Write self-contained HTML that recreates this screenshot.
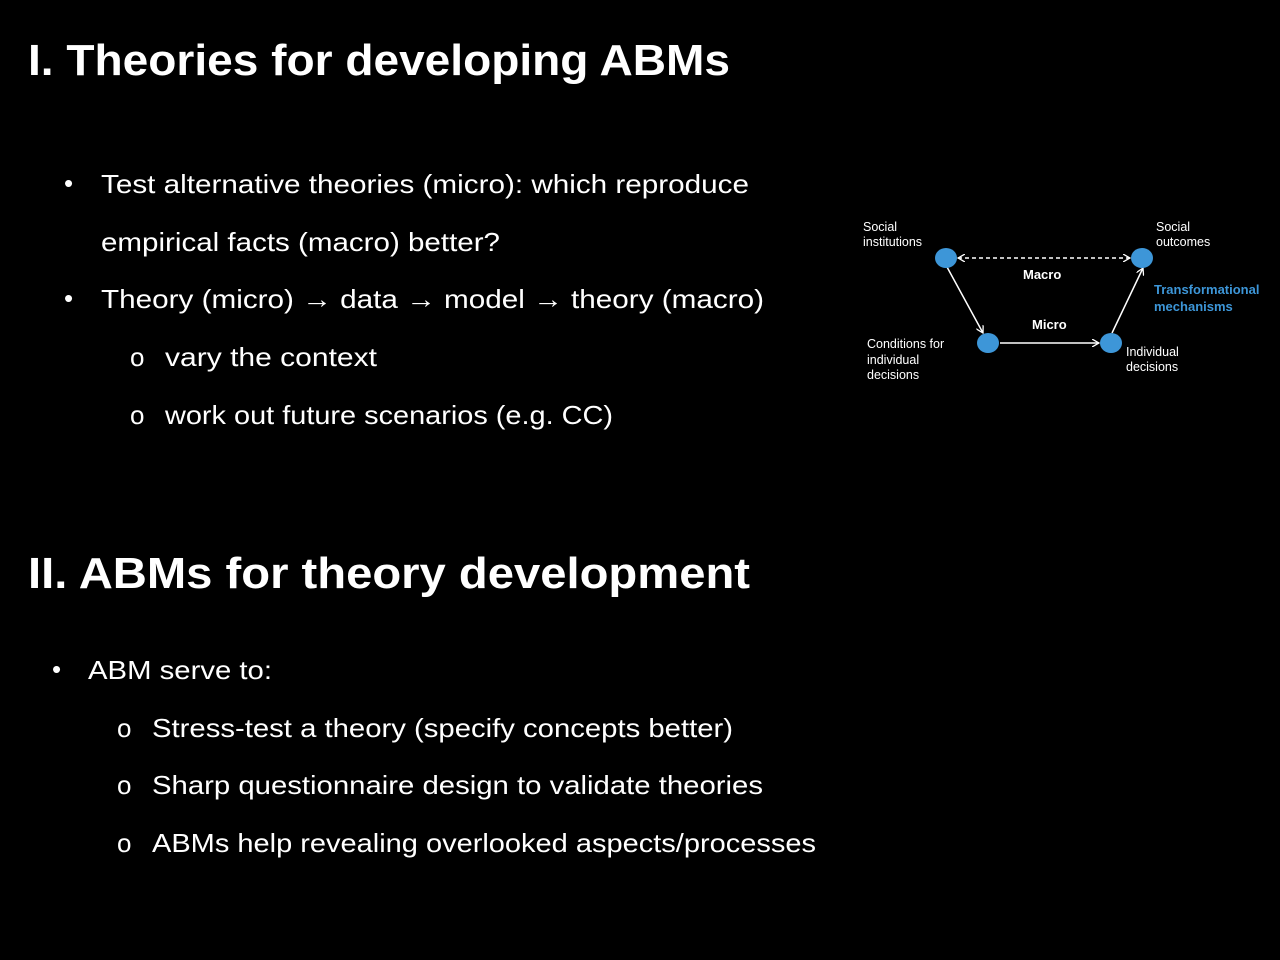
<!DOCTYPE html>
<html><head><style>html,body{margin:0;background:#000;}svg{display:block}</style></head>
<body>
<svg width="1280" height="960" viewBox="0 0 1280 960" xmlns="http://www.w3.org/2000/svg">
<rect width="1280" height="960" fill="#000"/>
<g fill="#fff" font-family="Liberation Sans, sans-serif">
<text x="28" y="75" font-size="44" font-weight="bold" textLength="702" lengthAdjust="spacingAndGlyphs">I. Theories for developing ABMs</text>
<text x="28" y="588" font-size="44" font-weight="bold" textLength="722" lengthAdjust="spacingAndGlyphs">II. ABMs for theory development</text>
<g font-size="26">
<text x="64" y="192">•</text>
<text x="101" y="193" textLength="648" lengthAdjust="spacingAndGlyphs">Test alternative theories (micro): which reproduce</text>
<text x="101" y="251" textLength="399" lengthAdjust="spacingAndGlyphs">empirical facts (macro) better?</text>
<text x="64" y="307">•</text>
<text x="101" y="308" textLength="663" lengthAdjust="spacingAndGlyphs">Theory (micro) → data → model → theory (macro)</text>
<text x="130" y="366">o</text>
<text x="165" y="366" textLength="212" lengthAdjust="spacingAndGlyphs">vary the context</text>
<text x="130" y="424">o</text>
<text x="165" y="424" textLength="448" lengthAdjust="spacingAndGlyphs">work out future scenarios (e.g. CC)</text>
<text x="52" y="678">•</text>
<text x="88" y="679" textLength="184" lengthAdjust="spacingAndGlyphs">ABM serve to:</text>
<text x="117" y="737">o</text>
<text x="152" y="737" textLength="581" lengthAdjust="spacingAndGlyphs">Stress-test a theory (specify concepts better)</text>
<text x="117" y="794">o</text>
<text x="152" y="794" textLength="611" lengthAdjust="spacingAndGlyphs">Sharp questionnaire design to validate theories</text>
<text x="117" y="852">o</text>
<text x="152" y="852" textLength="664" lengthAdjust="spacingAndGlyphs">ABMs help revealing overlooked aspects/processes</text>
</g>
<g font-size="12.5">
<text x="863" y="231">Social</text>
<text x="863" y="246">institutions</text>
<text x="1156" y="231">Social</text>
<text x="1156" y="246">outcomes</text>
<text x="867" y="348">Conditions for</text>
<text x="867" y="364">individual</text>
<text x="867" y="379">decisions</text>
<text x="1126" y="356">Individual</text>
<text x="1126" y="371">decisions</text>
</g>
<g font-size="13" font-weight="bold">
<text x="1023" y="279">Macro</text>
<text x="1032" y="329">Micro</text>
<text x="1154" y="294" fill="#3d96d8">Transformational</text>
<text x="1154" y="311" fill="#3d96d8">mechanisms</text>
</g>
</g>
<defs><marker id="a" markerWidth="8" markerHeight="8" refX="7" refY="4" orient="auto" markerUnits="userSpaceOnUse"><path d="M0,0 L7,4 L0,8" fill="none" stroke="#fff" stroke-width="1.3"/></marker>
<marker id="b" markerWidth="8" markerHeight="8" refX="1" refY="4" orient="auto" markerUnits="userSpaceOnUse"><path d="M8,0 L1,4 L8,8" fill="none" stroke="#fff" stroke-width="1.3"/></marker></defs>
<g stroke="#fff" stroke-width="1.5" fill="none">
<line x1="958" y1="258" x2="1130" y2="258" stroke-dasharray="4,3" marker-end="url(#a)" marker-start="url(#b)"/>
<line x1="947" y1="267" x2="983" y2="333" marker-end="url(#a)"/>
<line x1="1000" y1="343" x2="1099" y2="343" marker-end="url(#a)"/>
<line x1="1112" y1="333" x2="1143" y2="268" marker-end="url(#a)"/>
</g>
<g fill="#3d96d8">
<ellipse cx="946" cy="258" rx="11" ry="10"/>
<ellipse cx="1142" cy="258" rx="11" ry="10"/>
<ellipse cx="988" cy="343" rx="11" ry="10"/>
<ellipse cx="1111" cy="343" rx="11" ry="10"/>
</g>
</svg>
</body></html>
